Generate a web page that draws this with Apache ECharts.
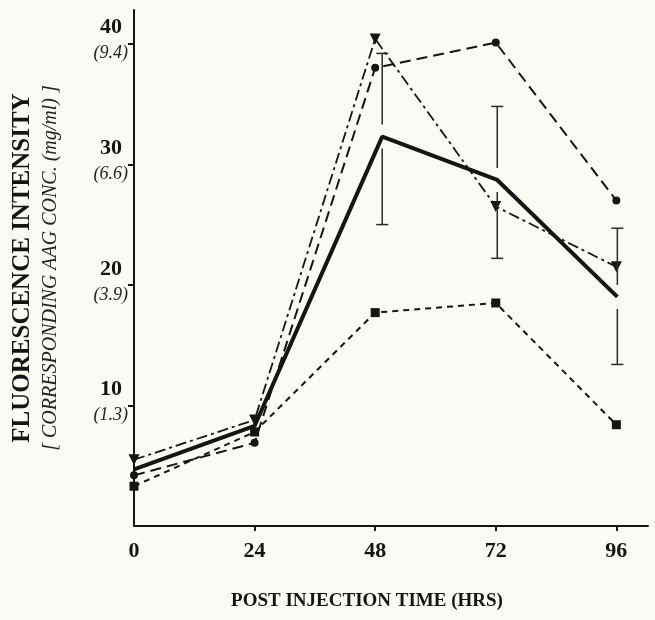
<!DOCTYPE html>
<html>
<head>
<meta charset="utf-8">
<script src="https://cdn.jsdelivr.net/npm/echarts@6/dist/echarts.min.js"></script>
<style>
	html,body{margin:0;padding:0;background:#fbfbf5;}
	#chart{width:655px;height:620px;}
</style>
</head>
<body>
<div id="chart"></div>
<script>
	// data
	var hours = [0, 24, 48, 72, 96];
	var meanHours = [0, 24, 49.4, 72.3, 96.2];
	var meanVals = [4.7, 8.3, 32.3, 28.7, 19.0];
	var errHours = [49.4, 72.3, 96.2];
	var errMean = [32.3, 28.7, 19.0];
	var errHigh = [39.2, 34.8, 24.7];
	var errLow = [25.0, 22.2, 13.4];
	var circleVals = [4.2, 6.9, 38.0, 40.1, 27.0];
	var triangleVals = [5.5, 8.8, 40.4, 26.5, 21.5];
	var squareVals = [3.3, 7.8, 17.7, 18.5, 8.4];
	var yTickVals = [10, 20, 30, 40];
	var aagLabels = ['(1.3)', '(3.9)', '(6.6)', '(9.4)'];

	var serif = 'Liberation Serif';
	var ink = '#151515';

	function pairs(xs, ys){
		return xs.map(function(x, i){
			return [x, ys[i]];
		});
	}

	//误差棒
	function renderErrorBar(params, api){
		var x = api.value(0);
		var pHi = api.coord([x, api.value(1)]);
		var pLo = api.coord([x, api.value(2)]);
		var pM = api.coord([x, api.value(3)]);
		var gap = 12, cap = 6;
		var st = {stroke: '#2a2a2a', lineWidth: 1.5};
		return {
			type: 'group',
			children: [
				{type: 'line', shape: {x1: pHi[0], y1: pHi[1], x2: pHi[0], y2: pM[1] - gap}, style: st},
				{type: 'line', shape: {x1: pLo[0], y1: pM[1] + gap, x2: pLo[0], y2: pLo[1]}, style: st},
				{type: 'line', shape: {x1: pHi[0] - cap, y1: pHi[1], x2: pHi[0] + cap, y2: pHi[1]}, style: st},
				{type: 'line', shape: {x1: pLo[0] - cap, y1: pLo[1], x2: pLo[0] + cap, y2: pLo[1]}, style: st}
			]
		};
	}

	var option = {
		backgroundColor: '#fbfbf5',
		animation: false,
		grid: {
			left: 134,
			right: 7,
			top: 10,
			bottom: 94,
			outerBoundsMode: 'none'
		},
		xAxis: {
			type: 'value',
			min: 0,
			max: 102.3,
			interval: 24,
			splitLine: {show: false},
			axisLine: {lineStyle: {color: ink, width: 2}},
			axisTick: {
				customValues: [24, 48, 72, 96],
				length: 5,
				lineStyle: {color: ink, width: 2}
			},
			axisLabel: {
				customValues: hours,
				margin: 14,
				color: ink,
				fontFamily: serif,
				fontWeight: 'bold',
				fontSize: 22
			},
			name: 'POST INJECTION TIME (HRS)',
			nameLocation: 'middle',
			nameGap: 66,
			nameTextStyle: {
				color: ink,
				fontFamily: serif,
				fontWeight: 'bold',
				fontSize: 19,
				padding: [0, 48, 0, 0]
			}
		},
		yAxis: {
			type: 'value',
			min: 0,
			max: 42.8,
			interval: 10,
			splitLine: {show: false},
			axisLine: {lineStyle: {color: ink, width: 2}},
			axisTick: {
				customValues: yTickVals,
				length: 6,
				lineStyle: {color: ink, width: 2}
			},
			axisLabel: {
				customValues: yTickVals,
				margin: 6,
				formatter: function(v){
					var i = yTickVals.indexOf(v);
					if(i < 0) return '';
					return '{a|' + v + '}\n{b|' + aagLabels[i] + '}';
				},
				rich: {
					a: {
						color: ink,
						fontFamily: serif,
						fontWeight: 'bold',
						fontSize: 22,
						lineHeight: 20,
						align: 'right',
						padding: [0, 6, 0, 0]
					},
					b: {
						color: '#222',
						fontFamily: serif,
						fontStyle: 'italic',
						fontSize: 18,
						lineHeight: 32,
						align: 'right'
					}
				}
			},
			name: '{t|FLUORESCENCE INTENSITY}\n{s|[ CORRESPONDING AAG CONC. (mg/ml) ]}',
			nameLocation: 'middle',
			nameRotate: 90,
			nameGap: 70,
			nameTextStyle: {
				rich: {
					t: {
						color: ink,
						fontFamily: serif,
						fontWeight: 'bold',
						fontSize: 25,
						lineHeight: 30
					},
					s: {
						color: '#222',
						fontFamily: serif,
						fontStyle: 'italic',
						fontSize: 20,
						lineHeight: 26
					}
				}
			}
		},
		series: [
			{
				name: 'square',
				type: 'line',
				data: pairs(hours, squareVals),
				symbol: 'rect',
				symbolSize: 9,
				itemStyle: {color: ink},
				lineStyle: {color: ink, width: 2, type: [6, 5]}
			},
			{
				name: 'circle',
				type: 'line',
				data: pairs(hours, circleVals),
				symbol: 'circle',
				symbolSize: 8,
				itemStyle: {color: ink},
				lineStyle: {color: ink, width: 2, type: [11, 6]}
			},
			{
				name: 'triangle',
				type: 'line',
				data: pairs(hours, triangleVals),
				symbol: 'triangle',
				symbolRotate: 180,
				symbolSize: 11,
				itemStyle: {color: ink},
				lineStyle: {color: ink, width: 1.8, type: [11, 4, 3, 4]}
			},
			{
				name: 'mean',
				type: 'line',
				data: pairs(meanHours, meanVals),
				showSymbol: false,
				symbol: 'none',
				lineStyle: {color: ink, width: 4}
			},
			{
				name: 'error',
				type: 'custom',
				renderItem: renderErrorBar,
				data: errHours.map(function(x, i){
					return [x, errHigh[i], errLow[i], errMean[i]];
				}),
				z: 5
			}
		]
	};

	echarts.init(document.getElementById('chart')).setOption(option);
</script>
</body>
</html>
